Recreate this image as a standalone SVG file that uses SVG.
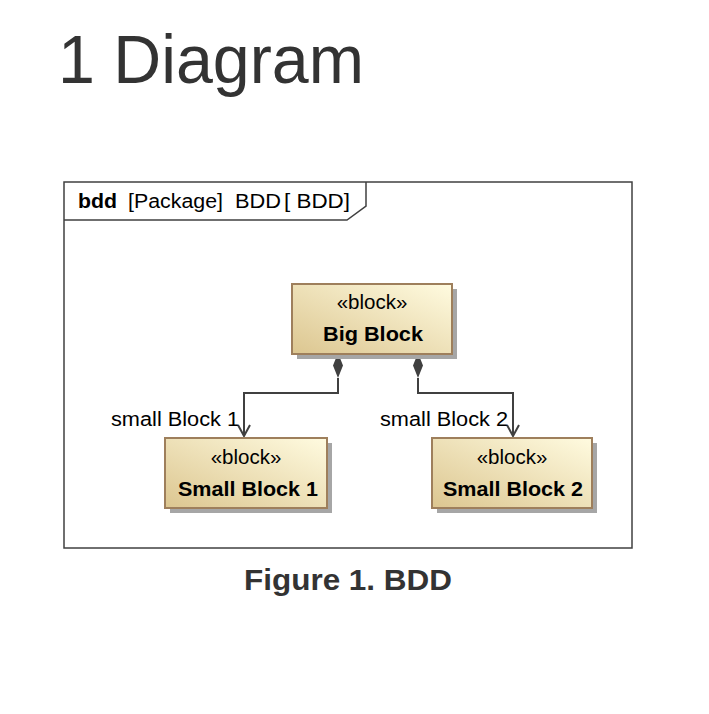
<svg xmlns="http://www.w3.org/2000/svg" width="709" height="714" viewBox="0 0 709 714">
<style>
.blk{fill:url(#g);stroke:#9e7f5c;stroke-width:2}
.sh{fill:#a6a6a6}
.st{font-family:"Liberation Sans",Arial,sans-serif;font-size:20.5px;fill:#000;text-anchor:middle}
.nm{font-family:"Liberation Sans",Arial,sans-serif;font-size:20px;font-weight:bold;fill:#000;text-anchor:middle}
.lbl{font-family:"Liberation Sans",Arial,sans-serif;font-size:20px;fill:#000}
.hd{font-family:"Liberation Sans",Arial,sans-serif;font-size:20px;fill:#000}
.ln{fill:none;stroke:#404040;stroke-width:2}
</style>
<defs>
<linearGradient id="g" x1="0" y1="1" x2="1" y2="0">
<stop offset="0" stop-color="#dcc690"/>
<stop offset="1" stop-color="#fffbe0"/>
</linearGradient>
<marker id="arr" markerWidth="14" markerHeight="14" refX="12" refY="7" orient="auto" markerUnits="userSpaceOnUse">
<path d="M1,1 L12,7 L1,13" fill="none" stroke="#404040" stroke-width="2"/>
</marker>
</defs>
<rect width="709" height="714" fill="#fff"/>
<text x="58" y="83" font-family="'Liberation Sans',Arial,sans-serif" font-size="68" fill="#333" textLength="306" lengthAdjust="spacingAndGlyphs">1 Diagram</text>

<g id="frame">
<rect x="64" y="182" width="568" height="366" fill="#fff" stroke="#404040" stroke-width="1.5"/>
<path d="M64,220 H347 L366,206 V182" fill="none" stroke="#404040" stroke-width="1.5"/>
<text class="hd" x="78" y="208" font-weight="bold" textLength="39" lengthAdjust="spacingAndGlyphs">bdd</text>
<text class="hd" x="128" y="208" textLength="95" lengthAdjust="spacingAndGlyphs">[Package]</text>
<text class="hd" x="235" y="208" textLength="46" lengthAdjust="spacingAndGlyphs">BDD</text>
<text class="hd" x="284" y="208" textLength="66" lengthAdjust="spacingAndGlyphs">[ BDD]</text>
</g>

<g id="connectors">
<path class="ln" d="M338,378 V393 H244 V436" marker-end="url(#arr)"/>
<path class="ln" d="M418,378 V393 H513 V436" marker-end="url(#arr)"/>
<path d="M338,353 L343,365.5 L338,378 L333,365.5 Z" fill="#404040"/>
<path d="M418,353 L423,365.5 L418,378 L413,365.5 Z" fill="#404040"/>
<text class="lbl" x="111" y="426" textLength="128" lengthAdjust="spacingAndGlyphs">small Block 1</text>
<text class="lbl" x="380" y="426" textLength="128" lengthAdjust="spacingAndGlyphs">small Block 2</text>
</g>

<g id="big-block">
<rect class="sh" x="297" y="289" width="160" height="70"/>
<rect class="blk" x="292" y="284" width="160" height="70"/>
<text class="st" x="372" y="309">«block»</text>
<text class="nm" x="373" y="341" textLength="100" lengthAdjust="spacingAndGlyphs">Big Block</text>
</g>

<g id="small-block-1">
<rect class="sh" x="170" y="443" width="162" height="70"/>
<rect class="blk" x="165" y="438" width="162" height="70"/>
<text class="st" x="246" y="464">«block»</text>
<text class="nm" x="248" y="496" textLength="140" lengthAdjust="spacingAndGlyphs">Small Block 1</text>
</g>

<g id="small-block-2">
<rect class="sh" x="437" y="443" width="160" height="70"/>
<rect class="blk" x="432" y="438" width="160" height="70"/>
<text class="st" x="512" y="464">«block»</text>
<text class="nm" x="513" y="496" textLength="140" lengthAdjust="spacingAndGlyphs">Small Block 2</text>
</g>

<text x="348" y="590" font-family="'Liberation Sans',Arial,sans-serif" font-size="29" font-weight="bold" fill="#333" text-anchor="middle" textLength="208" lengthAdjust="spacingAndGlyphs">Figure 1. BDD</text>
</svg>
